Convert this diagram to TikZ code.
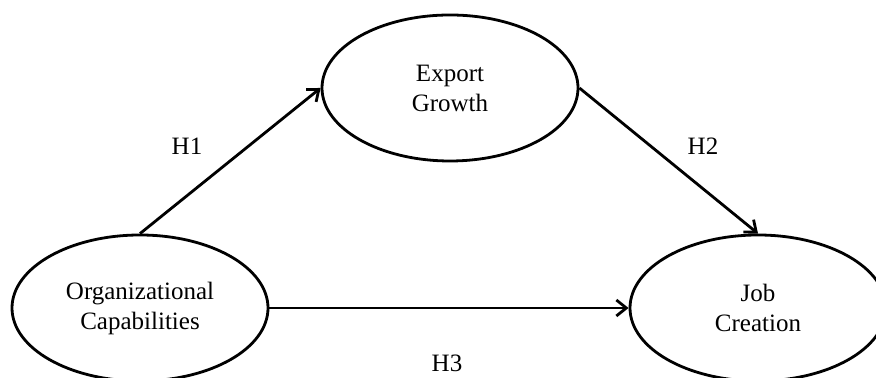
\documentclass[tikz,border=0pt]{standalone}
\usepackage{fontspec}
\setmainfont{Liberation Serif}
\usetikzlibrary{shapes.geometric,arrows.meta}

\begin{document}
\begin{tikzpicture}[x=1pt,y=1pt,
    construct/.style={ellipse, draw, line width=1.4pt, minimum width=128pt, minimum height=73pt,
        inner sep=0pt, align=center, font=\fontsize{12.5}{15}\selectfont},
    path/.style={line width=1.4pt, -{Straight Barb[length=5pt,width=8pt,line width=1.4pt]}},
    hyp/.style={font=\fontsize{12.5}{15}\selectfont}]
    \useasboundingbox (0,0) rectangle (438,189);

    % Define the three constructs
    \node[construct] (export) at (225,145) {Export\\Growth};
    \node[construct] (org) at (70,35) {Organizational\\Capabilities};
    \node[construct] (job) at (379,35) {Job\\Creation};

    % Draw the hypothesised paths
    \draw[path] (org.north) -- (export.west);
    \draw[path] (export.east) -- (job.north);
    \draw[path] (org.east) -- (job.west);

    % Label the hypotheses
    \node[hyp] (h1) at (93.5,116) {H1};
    \node[hyp] (h2) at (351.5,116) {H2};
    \node[hyp] (h3) at (223.5,7.5) {H3};

\end{tikzpicture}
\end{document}
